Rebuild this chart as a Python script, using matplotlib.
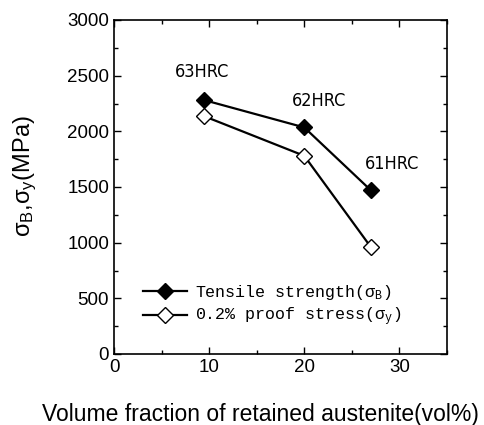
import matplotlib
matplotlib.use("Agg")
import matplotlib.pyplot as plt
from matplotlib.ticker import MultipleLocator

vol_fraction = [9.5, 20, 27]
tensile = [2280, 2035, 1470]
proof = [2135, 1780, 960]
hrc_labels = ["63HRC", "62HRC", "61HRC"]
hrc_pos_x = [9.3, 21.6, 29.2]
hrc_pos_y = [2536, 2273, 1707]

plt.rcParams['font.family'] = ['Liberation Sans', 'DejaVu Sans']
plt.rcParams['mathtext.fontset'] = 'custom'
plt.rcParams['mathtext.rm'] = 'Liberation Sans'
plt.rcParams['mathtext.default'] = 'regular'

fig = plt.figure(figsize=(4.84, 4.25), dpi=100)
ax = fig.add_axes([114/484, 1 - 354/425, (447-114)/484, (354-20)/425])

ax.plot(vol_fraction, tensile, color='black', lw=1.6, marker='D', ms=8,
        mfc='black', mec='black', label=r'Tensile strength($\mathregular{\sigma_B}$)')
ax.plot(vol_fraction, proof, color='black', lw=1.6, marker='D', ms=8,
        mfc='white', mec='black', label=r'0.2% proof stress($\mathregular{\sigma_y}$)')

for t, x, y in zip(hrc_labels, hrc_pos_x, hrc_pos_y):
    ax.text(x, y, t, ha='center', va='center', fontsize=13,
            family=['Liberation Sans Narrow', 'DejaVu Sans'], fontstretch='condensed')

ax.set_xlim(0, 35)
ax.set_ylim(0, 3000)
ax.xaxis.set_major_locator(MultipleLocator(10))
ax.xaxis.set_minor_locator(MultipleLocator(5))
ax.yaxis.set_major_locator(MultipleLocator(500))
ax.yaxis.set_minor_locator(MultipleLocator(250))
ax.tick_params(which='both', direction='in', top=True, right=True, labelsize=13.5)
ax.tick_params(which='major', length=5, width=1)
ax.tick_params(which='minor', length=3, width=1)
for s in ax.spines.values():
    s.set_linewidth(1.2)

fig.text(260/484, 1 - 414/425, 'Volume fraction of retained austenite(vol%)',
         fontsize=16.5, ha='center', va='center')
fig.text(25/484, 1 - 176/425, r'$\sigma_B$,$\sigma_y$(MPa)', fontsize=17,
         rotation=90, ha='center', va='center')

leg = ax.legend(loc='lower left', bbox_to_anchor=(0.043, 0.032), frameon=False,
                prop={'family': ['Liberation Mono'], 'size': 12},
                handlelength=2.6, handletextpad=0.5, labelspacing=0.25)

fig.savefig('out.png', dpi=100)
